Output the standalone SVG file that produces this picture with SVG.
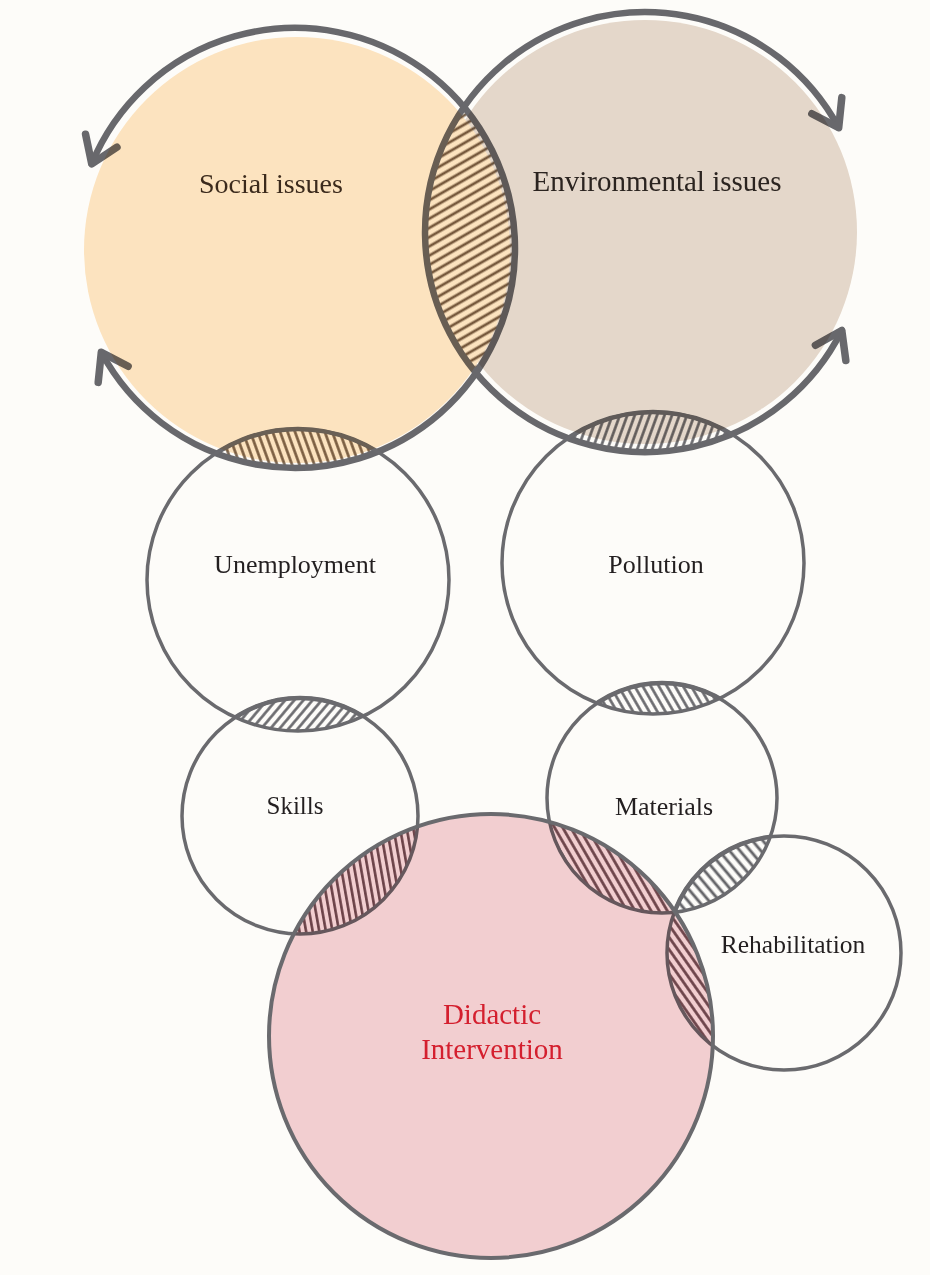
<svg xmlns="http://www.w3.org/2000/svg" width="930" height="1275" viewBox="0 0 930 1275">
<style>
.ol{fill:none;stroke:#6a6a6e;stroke-width:3.5}
.lens{fill:none;stroke:#6a6a6e;stroke-width:4.5}
.big{fill:none;stroke:#68686c;stroke-width:6.5;stroke-linecap:round}
.fill{mix-blend-mode:multiply}
.lbl{font-family:"Liberation Serif","Times New Roman",serif;text-anchor:middle;fill:#231f20}
</style>
<defs>
<marker id="arr" markerUnits="userSpaceOnUse" viewBox="-34 -24 38 48" refX="0" refY="0" markerWidth="38" markerHeight="48" orient="auto-start-reverse" overflow="visible">
<path d="M -25 -17 L 0 0 L -25 17" fill="none" stroke="#68686c" stroke-width="7.5" stroke-linecap="round" stroke-linejoin="round"/>
</marker>
<pattern id="hSE" width="8" height="8" patternUnits="userSpaceOnUse" patternTransform="rotate(60)"><line x1="4" y1="0" x2="4" y2="8" stroke="#77634f" stroke-width="2.8"/></pattern>
<pattern id="hSU" width="7" height="7" patternUnits="userSpaceOnUse" patternTransform="rotate(-20)"><line x1="3.5" y1="0" x2="3.5" y2="7" stroke="#77634f" stroke-width="2.6"/></pattern>
<pattern id="hEP" width="7" height="7" patternUnits="userSpaceOnUse" patternTransform="rotate(20)"><line x1="3.5" y1="0" x2="3.5" y2="7" stroke="#66666a" stroke-width="2.6"/></pattern>
<pattern id="hUS" width="7" height="7" patternUnits="userSpaceOnUse" patternTransform="rotate(40)"><line x1="3.5" y1="0" x2="3.5" y2="7" stroke="#66666a" stroke-width="2.6"/></pattern>
<pattern id="hPM" width="7" height="7" patternUnits="userSpaceOnUse" patternTransform="rotate(-30)"><line x1="3.5" y1="0" x2="3.5" y2="7" stroke="#66666a" stroke-width="2.6"/></pattern>
<pattern id="hSD" width="6.5" height="6.5" patternUnits="userSpaceOnUse" patternTransform="rotate(-10)"><line x1="3.2" y1="0" x2="3.2" y2="6.5" stroke="#6e4e54" stroke-width="2.6"/></pattern>
<pattern id="hMD" width="7" height="7" patternUnits="userSpaceOnUse" patternTransform="rotate(-30)"><line x1="3.5" y1="0" x2="3.5" y2="7" stroke="#6e4e54" stroke-width="2.7"/></pattern>
<pattern id="hMR" width="8" height="8" patternUnits="userSpaceOnUse" patternTransform="rotate(-40)"><line x1="4" y1="0" x2="4" y2="8" stroke="#66666a" stroke-width="2.9"/></pattern>
<pattern id="hRD" width="7" height="7" patternUnits="userSpaceOnUse" patternTransform="rotate(-35)"><line x1="3.5" y1="0" x2="3.5" y2="7" stroke="#6e4e54" stroke-width="2.7"/></pattern>
<clipPath id="cSocial"><circle cx="295" cy="248" r="220"/></clipPath>
<clipPath id="cEnv"><circle cx="645" cy="232" r="220"/></clipPath>
<clipPath id="cUnemp"><circle cx="298" cy="580" r="151"/></clipPath>
<clipPath id="cPoll"><circle cx="653" cy="563" r="151"/></clipPath>
<clipPath id="cSkills"><circle cx="300" cy="816" r="118"/></clipPath>
<clipPath id="cMat"><circle cx="662" cy="798" r="115"/></clipPath>
<clipPath id="cRehab"><circle cx="784" cy="953" r="117"/></clipPath>
<mask id="envMask"><rect width="930" height="1275" fill="#fff"/><circle cx="297" cy="250" r="213" fill="#000"/></mask>
</defs>
<rect width="930" height="1275" fill="#fdfcf9"/>

<g id="overlaps">
<g clip-path="url(#cSocial)"><circle cx="645" cy="232" r="220" fill="url(#hSE)"/><circle class="lens" cx="645" cy="232" r="220"/></g>
<g clip-path="url(#cSocial)"><circle cx="298" cy="580" r="151" fill="url(#hSU)"/><circle class="lens" cx="298" cy="580" r="151"/></g>
<g clip-path="url(#cEnv)"><circle cx="653" cy="563" r="151" fill="url(#hEP)"/><circle class="lens" cx="653" cy="563" r="151"/></g>
<g clip-path="url(#cUnemp)"><circle cx="300" cy="816" r="118" fill="url(#hUS)"/><circle class="lens" cx="300" cy="816" r="118"/></g>
<g clip-path="url(#cPoll)"><circle cx="662" cy="798" r="115" fill="url(#hPM)"/><circle class="lens" cx="662" cy="798" r="115"/></g>
<g clip-path="url(#cSkills)"><circle cx="491" cy="1036" r="222" fill="url(#hSD)"/></g>
<g clip-path="url(#cMat)"><circle cx="491" cy="1036" r="222" fill="url(#hMD)"/></g>
<g clip-path="url(#cMat)"><circle cx="784" cy="953" r="117" fill="url(#hMR)"/><circle class="lens" cx="784" cy="953" r="117"/></g>
<g clip-path="url(#cRehab)"><circle cx="491" cy="1036" r="222" fill="url(#hRD)"/></g>
</g>

<g id="connectors">
<path id="cycle-social" class="big" d="M 91.7 163.8 A 220 220 0 1 1 101.3 352.3" marker-start="url(#arr)" marker-end="url(#arr)"/>
<path id="cycle-env" class="big" d="M 841.8 330.5 A 220 220 0 1 1 838.7 127.7" marker-start="url(#arr)" marker-end="url(#arr)"/>
</g>

<g id="node-unemployment">
<circle class="ol" cx="298" cy="580" r="151"/>
<text class="lbl" x="295" y="573" font-size="26">Unemployment</text>
</g>
<g id="node-pollution">
<circle class="ol" cx="653" cy="563" r="151"/>
<text class="lbl" x="656" y="573" font-size="26">Pollution</text>
</g>
<g id="node-skills">
<circle class="ol" cx="300" cy="816" r="118"/>
<text class="lbl" x="295" y="814" font-size="25">Skills</text>
</g>
<g id="node-materials">
<circle class="ol" cx="662" cy="798" r="115"/>
<text class="lbl" x="664" y="815" font-size="26">Materials</text>
</g>
<g id="node-rehabilitation">
<circle class="ol" cx="784" cy="953" r="117"/>
<text class="lbl" x="793" y="953" font-size="25.5">Rehabilitation</text>
</g>
<g id="node-social">
<circle class="fill" cx="297" cy="250" r="213" fill="#fee6c4"/>
<text class="lbl" x="271" y="193" font-size="28" style="fill:#3b2a1c">Social issues</text>
</g>
<g id="node-environmental">
<circle class="fill" cx="645" cy="232" r="212" fill="#e6dacf" mask="url(#envMask)"/>
<text class="lbl" x="657" y="191" font-size="29" style="fill:#2b2420">Environmental issues</text>
</g>
<g id="node-didactic">
<circle class="fill" cx="491" cy="1036" r="222" fill="#f4d1d5"/>
<circle cx="491" cy="1036" r="222" fill="none" stroke="#6a6a6e" stroke-width="4"/>
<text class="lbl" x="492" y="1024" font-size="29" style="fill:#d41f2e">Didactic</text>
<text class="lbl" x="492" y="1059" font-size="29" style="fill:#d41f2e">Intervention</text>
</g>
</svg>
